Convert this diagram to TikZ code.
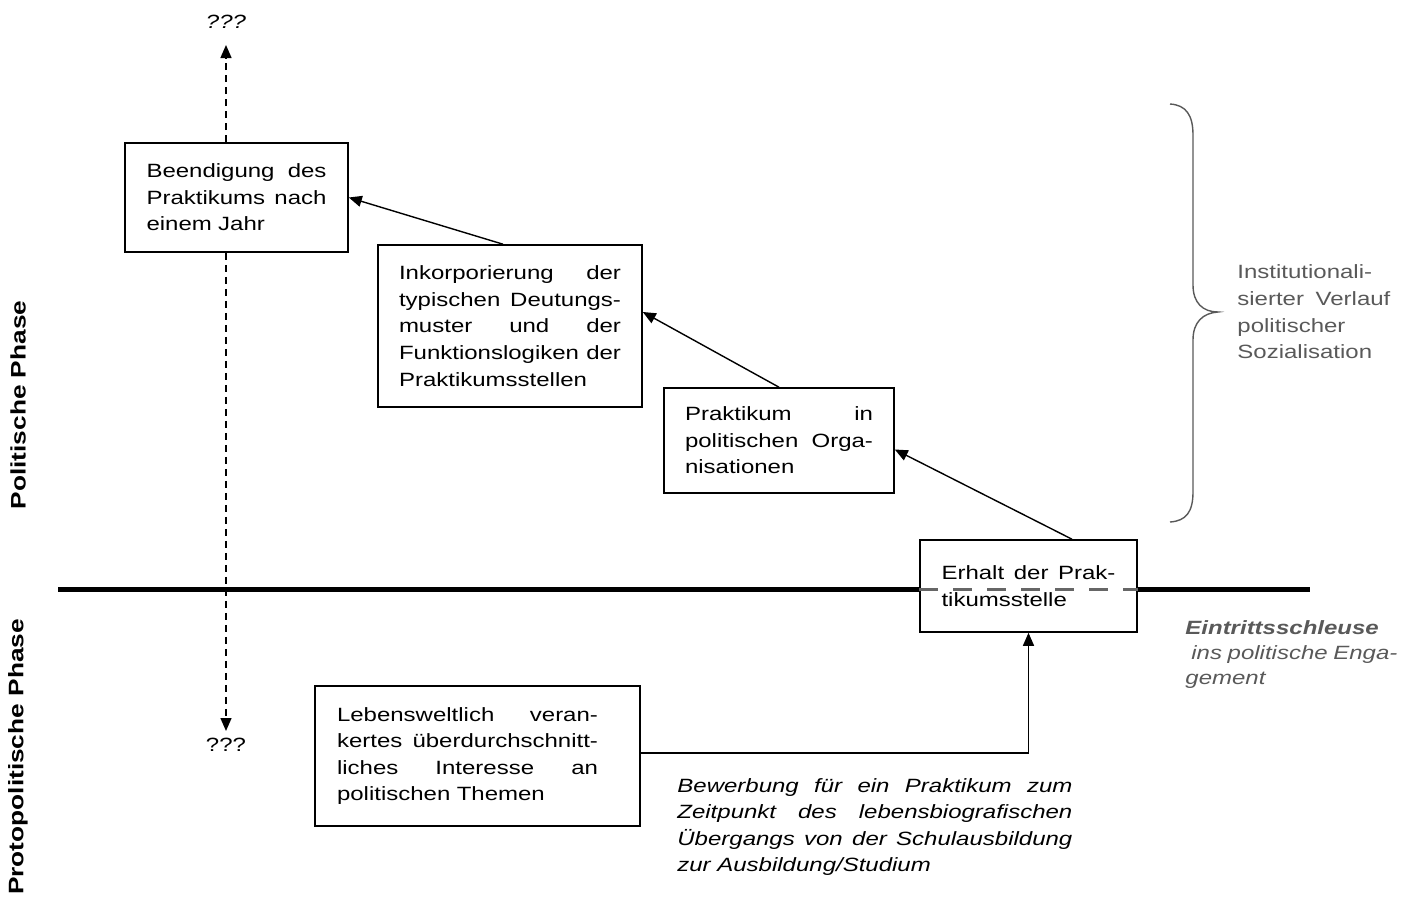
\documentclass[tikz,border=0pt]{standalone}
\usepackage{fontspec}
\setmainfont[FakeStretch=1.25]{Liberation Sans}
\usetikzlibrary{arrows.meta}
\definecolor{gtxt}{HTML}{595959}
\definecolor{gdash}{HTML}{666666}
\newcommand{\jline}[2]{\makebox[#1][s]{\spaceskip=0.28em plus 1fil\relax\xspaceskip=0.28em plus 1fil\relax #2}}
\begin{document}
\begin{tikzpicture}[x=0.5pt,y=-0.5pt,
  every node/.style={inner sep=0pt, font=\fontsize{9.6}{13.3}\selectfont},
  box/.style={draw, line width=0.8pt, fill=white, align=left},
  conn/.style={line width=0.7pt, -{Triangle[length=6.5pt,width=5.5pt]}},
  dconn/.style={conn, dash pattern=on 3.5pt off 2.5pt},
  sidelabel/.style={rotate=90, font=\fontsize{10.5}{12}\selectfont\bfseries},
]
\useasboundingbox (0,0) rectangle (1421,900);

% phase divider
\coordinate (hl) at (58,589);
\coordinate (hr) at (1310,589);
\draw[line width=2.5pt] (hl) -- (hr);

% side labels
\node[sidelabel] (pp) at (18,405) {Politische Phase};
\node[sidelabel] (ppp) at (18,757) {Protopolitische Phase};

% boxes
\node[box, minimum width=111.5pt, minimum height=54.5pt, text width=90pt] (b1) at (236.5,197.5)
  {\jline{90pt}{Beendigung des}\\\jline{90pt}{Praktikums nach}\\einem Jahr};
\node[box, minimum width=132pt, minimum height=81pt, text width=111pt] (b2) at (510,326)
  {\jline{111pt}{Inkorporierung der}\\\jline{111pt}{typischen Deutungs-}\\\jline{111pt}{muster und der}\\\jline{111pt}{Funktionslogiken der}\\Praktikumsstellen};
\node[box, minimum width=115pt, minimum height=52.5pt, text width=94pt] (b3) at (779,440.5)
  {\jline{94pt}{Praktikum in}\\\jline{94pt}{politischen Orga-}\\nisationen};
\node[box, minimum width=108.5pt, minimum height=46pt, text width=87pt] (b4) at (1028.5,586)
  {\jline{87pt}{Erhalt der Prak-}\\tikumsstelle};
\node[box, minimum width=162.5pt, minimum height=70pt, text width=140.5pt] (b5) at (477.5,756)
  {\jline{130.5pt}{Lebensweltlich veran-}\\\jline{130.5pt}{kertes überdurchschnitt-}\\\jline{130.5pt}{liches Interesse an}\\politischen Themen};

% gray dashed continuation through box 4
\draw[gdash, line width=1.5pt, dash pattern=on 9.5pt off 7.5pt] (b4.west |- hl) -- (b4.east |- hl);

% question marks
\node (qtop) at (226,22) {\itshape ???};
\node (qbot) at (226,745) {???};
\coordinate (tt) at (226,45);
\coordinate (tb) at (226,731);
\draw[dconn] (tt |- b1.north) -- (tt);
\draw[dconn] (tb |- b1.south) -- (tb);

% arrows
\draw[conn] ([xshift=-3.5pt]b2.north) -- (b1.east);
\draw[conn] (b3.north) -- ([yshift=7pt]b2.east);
\draw[conn] ([xshift=21.75pt]b4.north) -- ([yshift=-4.5pt]b3.east);
\draw[conn] ([yshift=1.5pt]b5.east) -| (b4.south);

% annotations
\node[align=left, anchor=west, font=\fontsize{9.6}{13.3}\selectfont\itshape] (bew) at (677,827)
  {\jline{197.5pt}{Bewerbung für ein Praktikum zum}\\\jline{197.5pt}{Zeitpunkt des lebensbiografischen}\\\jline{197.5pt}{Übergangs von der Schulausbildung}\\zur Ausbildung/Studium};

\node[align=left, anchor=west, text=gtxt] (inst) at (1237,312)
  {Institutionali-\\\jline{76.5pt}{sierter Verlauf}\\politischer\\Sozialisation};

\node[align=left, anchor=west, text=gtxt, font=\fontsize{9.6}{12.5}\selectfont\itshape] (eint) at (1185,655)
  {\textbf{Eintrittsschleuse}\\\jline{106pt}{\kern3pt ins politische Enga-}\\gement};

% brace
\draw[gtxt, line width=0.7pt] (1170,104) .. controls (1186,105) and (1193,115) .. (1193,135)
  -- (1193,285) .. controls (1193,303) and (1203,312) .. (1218,312)
  .. controls (1203,313) and (1193,322) .. (1193,340)
  -- (1193,492) .. controls (1193,512) and (1186,521) .. (1170,522);
\end{tikzpicture}
\end{document}
